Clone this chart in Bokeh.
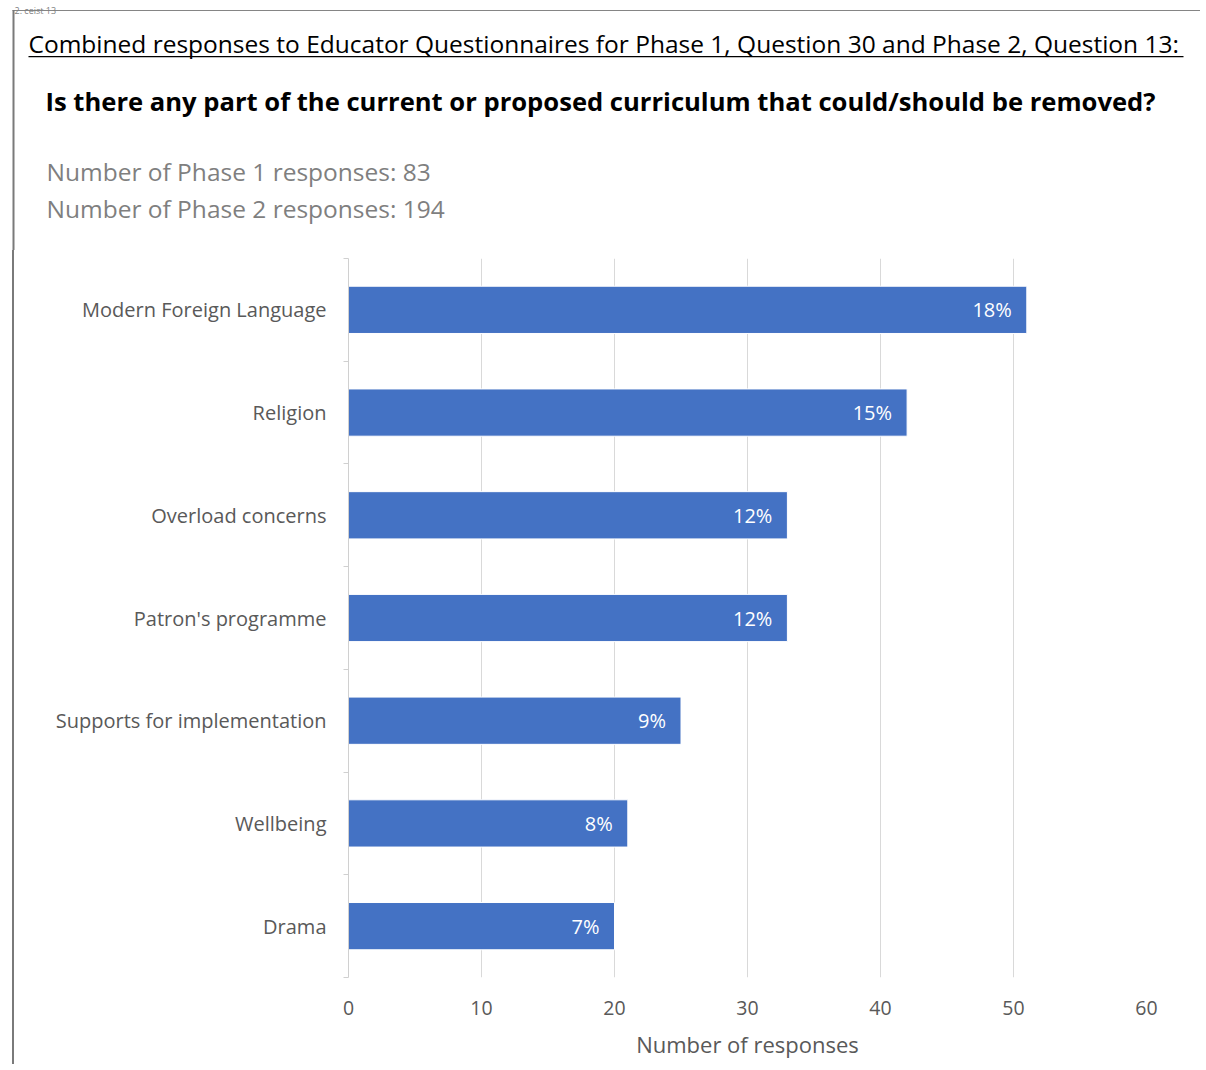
from bokeh.plotting import figure
from bokeh.layouts import column, row
from bokeh.models import (Range1d, FixedTicker, CustomJSTickFormatter, Label,
                          BoxAnnotation, ColumnDataSource, LabelSet, Div)
from bokeh.core.properties import value
from bokeh.embed import file_html
from bokeh.resources import INLINE

# ---- data ----
categories = ["Modern Foreign Language", "Religion", "Overload concerns",
              "Patron's programme", "Supports for implementation", "Wellbeing", "Drama"]
responses = [51, 42, 33, 33, 25, 21, 20]
percent_labels = ["18%", "15%", "12%", "12%", "9%", "8%", "7%"]
x_ticks = [0, 10, 20, 30, 40, 50, 60]
section_text = "2. ceist 13"
title_text = "Combined responses to Educator Questionnaires for Phase 1, Question 30 and Phase 2, Question 13:"
question_text = "Is there any part of the current or proposed curriculum that could/should be removed?"
phase1_text = "Number of Phase 1 responses: 83"
phase2_text = "Number of Phase 2 responses: 194"
x_axis_title = "Number of responses"

n = len(categories)
ypos = [n - i - 0.5 for i in range(n)]          # first category at the top
boundaries = [float(i) for i in range(n + 1)]

PAGE_W = 1200
HEAD_H = 250
BODY_H = 814
STRIP_W = 14
FRAME_L, FRAME_R = 348, 1146       # page x of plot frame
FRAME_T, FRAME_B = 258, 977        # page y of plot frame

FONT = "Open Sans"
GRAY_TXT = "#595959"
BORDER = "#7a7a7a"


def sbox(f, left, right, top, bottom, color):
    f.add_layout(BoxAnnotation(left=left, right=right, top=top, bottom=bottom,
                               left_units="screen", right_units="screen",
                               top_units="screen", bottom_units="screen",
                               fill_color=color, fill_alpha=1, line_color=None))


# ---------------- header ----------------
head = figure(width=PAGE_W, height=HEAD_H, output_backend="svg", toolbar_location=None,
              x_range=Range1d(0, PAGE_W), y_range=Range1d(0, HEAD_H), min_border=0,
              x_axis_location=None, y_axis_location=None)
head.grid.visible = False
head.outline_line_color = None


def hy(py):
    return HEAD_H - py


sbox(head, 12, PAGE_W, hy(9.5), hy(10.6), "#858585")       # top rule
sbox(head, 12, 14, hy(9.5), 0, BORDER)                      # left rule
sbox(head, 28, 1183, hy(55.4), hy(56.8), "#000000")         # underline

head.add_layout(Label(x=14, y=hy(9.6), x_units="screen", y_units="screen",
                      text=section_text, text_font=FONT, text_font_size="9px",
                      text_color="#7f7f7f", text_baseline="alphabetic"))
head.add_layout(Label(x=28, y=hy(42.5), x_units="screen", y_units="screen",
                      text=title_text, text_font=FONT, text_font_size="24.5px",
                      text_color="#000000", text_baseline="middle"))
head.add_layout(Label(x=45, y=hy(101), x_units="screen", y_units="screen",
                      text=question_text, text_font=FONT, text_font_size="25.6px",
                      text_font_style="bold", text_color="#000000", text_baseline="middle"))
head.add_layout(Label(x=46, y=hy(171), x_units="screen", y_units="screen",
                      text=phase1_text, text_font=FONT, text_font_size="24.5px",
                      text_color="#7f7f7f", text_baseline="middle"))
head.add_layout(Label(x=46, y=hy(208), x_units="screen", y_units="screen",
                      text=phase2_text, text_font=FONT, text_font_size="24.5px",
                      text_color="#7f7f7f", text_baseline="middle"))

# ---------------- left strip (page border) ----------------
strip = Div(text="", width=STRIP_W, height=BODY_H, margin=0,
            styles={"background": "linear-gradient(to right, #ffffff 12px, %s 12px)" % BORDER})

# ---------------- chart ----------------
body_w = PAGE_W - STRIP_W
p = figure(width=body_w, height=BODY_H, output_backend="svg", toolbar_location=None,
           x_range=Range1d(0, 60), y_range=Range1d(0, n),
           min_border_left=FRAME_L - STRIP_W, min_border_right=PAGE_W - FRAME_R,
           min_border_top=FRAME_T - HEAD_H,
           min_border_bottom=BODY_H - (FRAME_B - HEAD_H))
p.outline_line_color = None

src = ColumnDataSource(dict(y=ypos, v=responses, lab=percent_labels))
p.hbar(y="y", right="v", left=0, height=0.46, source=src,
       fill_color="#4472C4", line_color="#ffffff", line_width=1)
p.add_layout(LabelSet(x="v", y="y", text="lab", source=src, x_offset=-15,
                      text_align="right", text_baseline="middle",
                      text_color="white", text_font=value(FONT),
                      text_font_size="20px"))

p.xaxis.ticker = FixedTicker(ticks=x_ticks)
p.xaxis.axis_line_color = None
p.xaxis.major_tick_line_color = None
p.xaxis.major_tick_out = 0
p.xaxis.minor_tick_line_color = None
p.xaxis.major_label_text_font = FONT
p.xaxis.major_label_text_font_size = "19.5px"
p.xaxis.major_label_text_color = GRAY_TXT
p.xaxis.major_label_standoff = 23
p.xaxis.axis_label = x_axis_title
p.xaxis.axis_label_text_font = FONT
p.xaxis.axis_label_text_font_style = "normal"
p.xaxis.axis_label_text_font_size = "22px"
p.xaxis.axis_label_text_color = GRAY_TXT
p.xaxis.axis_label_standoff = 11

p.xgrid.ticker = FixedTicker(ticks=x_ticks)
p.xgrid.grid_line_color = "#d9d9d9"
p.ygrid.grid_line_color = None

p.yaxis.ticker = FixedTicker(ticks=ypos, minor_ticks=boundaries)
p.yaxis.formatter = CustomJSTickFormatter(args=dict(cats=categories, n=n),
                                          code="return cats[n - 1 - Math.floor(tick)];")
p.yaxis.axis_line_color = "#d0d0d0"
p.yaxis.major_tick_line_color = None
p.yaxis.major_tick_out = 0
p.yaxis.major_tick_in = 0
p.yaxis.minor_tick_line_color = "#d0d0d0"
p.yaxis.minor_tick_out = 5
p.yaxis.minor_tick_in = 0
p.yaxis.major_label_standoff = 17
p.yaxis.major_label_text_font = FONT
p.yaxis.major_label_text_font_size = "20px"
p.yaxis.major_label_text_color = GRAY_TXT

layout = column(head, row(strip, p))
open("out.html", "w").write(file_html(layout, INLINE))
